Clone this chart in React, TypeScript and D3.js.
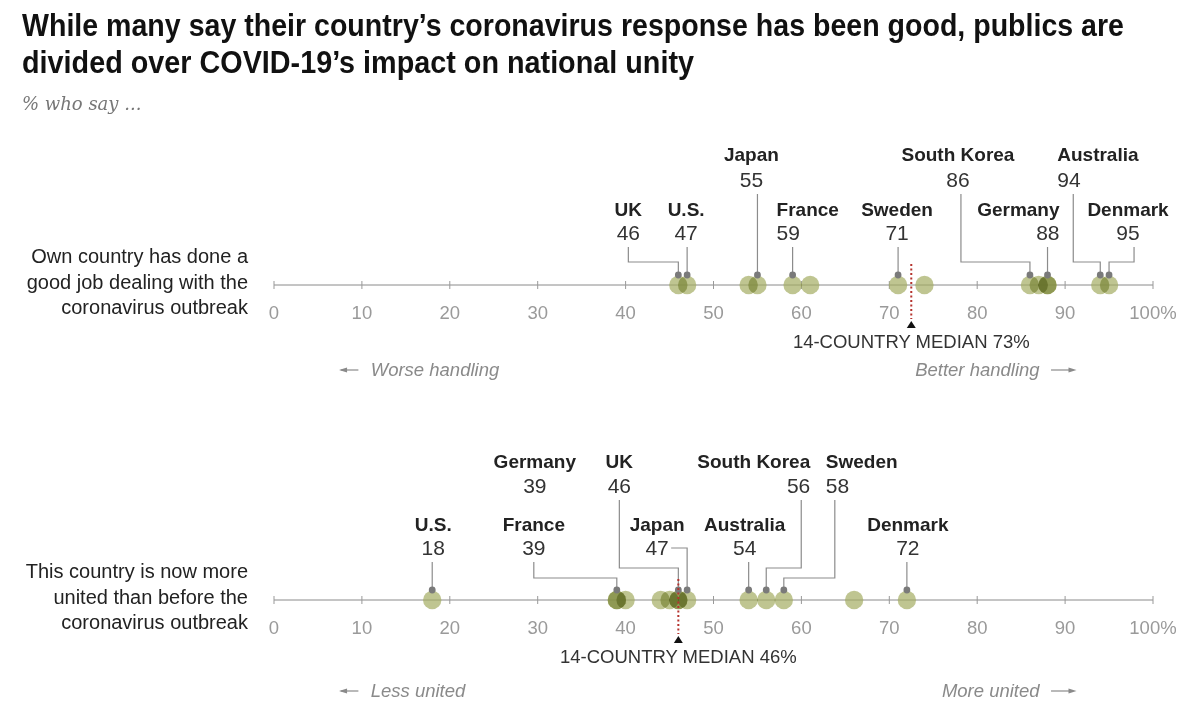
import * as d3 from 'd3'

// 14 countries surveyed, Summer 2020
const countries = ['U.S.', 'Canada', 'Belgium', 'Denmark', 'France', 'Germany', 'Italy',
  'Netherlands', 'Spain', 'Sweden', 'UK', 'Australia', 'Japan', 'South Korea']
const goodJob = [47, 88, 61, 95, 59, 88, 74, 87, 54, 71, 46, 94, 55, 86]
const moreUnited = [18, 66, 40, 72, 39, 39, 45, 44, 46, 58, 46, 54, 47, 56]

const tickValues = [0, 10, 20, 30, 40, 50, 60, 70, 80, 90, 100]
const tickLabels = ['0', '10', '20', '30', '40', '50', '60', '70', '80', '90', '100%']

const rowLabels = [
  ['Own country has done a', 'good job dealing with the', 'coronavirus outbreak'],
  ['This country is now more', 'united than before the', 'coronavirus outbreak'],
]
const directionLabels = [
  ['Worse handling', 'Better handling'],
  ['Less united', 'More united'],
]

const title = [
  'While many say their country’s coronavirus response has been good, publics are',
  'divided over COVID-19’s impact on national unity',
]
const subtitle = '% who say ...'

// label placement (pixels relative to the dot) - layout only
type Spec = {
  country: string
  tier: 'low' | 'high'
  anchor: 'start' | 'middle' | 'end'
  dx: number
  leader: 'none' | 'straight' | 'elbow' | 'side'
  ldx?: number
  elbow?: number
}

const layout1: Spec[] = [
  { country: 'UK', tier: 'low', anchor: 'middle', dx: -50, leader: 'elbow', ldx: -50, elbow: -23 },
  { country: 'U.S.', tier: 'low', anchor: 'middle', dx: -1, leader: 'straight' },
  { country: 'Japan', tier: 'high', anchor: 'middle', dx: -6, leader: 'straight' },
  { country: 'France', tier: 'low', anchor: 'start', dx: -16, leader: 'straight' },
  { country: 'Sweden', tier: 'low', anchor: 'middle', dx: -1, leader: 'straight' },
  { country: 'South Korea', tier: 'high', anchor: 'middle', dx: -72, leader: 'elbow', ldx: -69, elbow: -23 },
  { country: 'Germany', tier: 'low', anchor: 'end', dx: 12, leader: 'straight' },
  { country: 'Australia', tier: 'high', anchor: 'start', dx: -43, leader: 'elbow', ldx: -27, elbow: -23 },
  { country: 'Denmark', tier: 'low', anchor: 'middle', dx: 19, leader: 'elbow', ldx: 25, elbow: -23 },
]
const layout2: Spec[] = [
  { country: 'U.S.', tier: 'low', anchor: 'middle', dx: 1, leader: 'straight' },
  { country: 'France', tier: 'low', anchor: 'middle', dx: -83, leader: 'elbow', ldx: -83, elbow: -22 },
  { country: 'Germany', tier: 'high', anchor: 'middle', dx: -82, leader: 'none' },
  { country: 'UK', tier: 'high', anchor: 'middle', dx: -59, leader: 'elbow', ldx: -59, elbow: -32 },
  { country: 'Japan', tier: 'low', anchor: 'middle', dx: -30, leader: 'side', ldx: -16 },
  { country: 'Australia', tier: 'low', anchor: 'middle', dx: -4, leader: 'straight' },
  { country: 'South Korea', tier: 'high', anchor: 'end', dx: 44, leader: 'elbow', ldx: 35, elbow: -32 },
  { country: 'Sweden', tier: 'high', anchor: 'start', dx: 42, leader: 'elbow', ldx: 51, elbow: -22 },
  { country: 'Denmark', tier: 'low', anchor: 'middle', dx: 1, leader: 'straight' },
]

const W = 1200
const H = 722
const SANS = '"Liberation Sans", Arial, sans-serif'

const x = d3.scaleLinear().domain([0, 100]).range([274, 1153])

const rows = [
  { values: goodJob, axisY: 285, layout: layout1, tiers: { low: [-69, -45], high: [-124, -98] } },
  { values: moreUnited, axisY: 600, layout: layout2, tiers: { low: [-69, -45], high: [-132, -107] } },
]

const Row = ({ r, idx }: { r: typeof rows[number]; idx: number }) => {
  const y0 = r.axisY
  const data = countries.map((c, i) => ({ country: c, value: r.values[i] }))
  const med = d3.median(r.values) as number
  const mx = x(med)
  const dotY = y0 - 10
  const ay = y0 + 85 + idx * 6
  return (
    <g>
      {rowLabels[idx].map((t, i) => (
        <text key={t} x={248} y={y0 - 22 + i * 25.5} textAnchor="end" fontSize={20} fill="#222" fontFamily={SANS}>{t}</text>
      ))}
      <line x1={x(0)} x2={x(100)} y1={y0} y2={y0} stroke="#8a8a8a" strokeWidth={1} />
      {tickValues.map((t, i) => (
        <g key={t}>
          <line x1={x(t)} x2={x(t)} y1={y0 - 4} y2={y0 + 4} stroke="#999" strokeWidth={1} />
          <text x={x(t)} y={y0 + 34} textAnchor="middle" fontSize={18.5} fill="#9a9a9a" fontFamily={SANS}>{tickLabels[i]}</text>
        </g>
      ))}
      <g style={{ isolation: 'isolate' }}>
        {data.map(d => (
          <circle key={d.country} cx={x(d.value)} cy={y0} r={9.2} fill="#a4ad62" fillOpacity={0.7}
            style={{ mixBlendMode: 'multiply' }} />
        ))}
      </g>
      {r.layout.map(s => {
        const d = data.find(e => e.country === s.country)!
        const cx = x(d.value)
        const tx = cx + s.dx
        const [ny, vy] = r.tiers[s.tier]
        let path = ''
        if (s.leader === 'straight') path = `M${cx},${y0 + vy + 7}V${dotY}`
        if (s.leader === 'elbow') path = `M${cx + (s.ldx ?? 0)},${y0 + vy + 7}V${y0 + (s.elbow ?? 0)}H${cx}V${dotY}`
        if (s.leader === 'side') path = `M${cx + (s.ldx ?? 0)},${y0 + vy - 7}H${cx}V${dotY}`
        return (
          <g key={s.country}>
            {path && <path d={path} fill="none" stroke="#8c8c8c" strokeWidth={1.2} />}
            {s.leader !== 'none' && <circle cx={cx} cy={dotY} r={3.4} fill="#7a7a7a" />}
            <text x={tx} y={y0 + ny} textAnchor={s.anchor} fontSize={19} fontWeight={700} fill="#222" fontFamily={SANS}>{s.country}</text>
            <text x={tx} y={y0 + vy} textAnchor={s.anchor} fontSize={21} fill="#333" fontFamily={SANS}>{d.value}</text>
          </g>
        )
      })}
      <line x1={mx} x2={mx} y1={y0 - 21} y2={y0 + 34} stroke="#b5332e" strokeWidth={2} strokeDasharray="2,2.5" />
      <path d={`M${mx},${y0 + 36}l4.5,7h-9z`} fill="#111" />
      <text x={mx} y={y0 + 63} textAnchor="middle" fontSize={18.5} fill="#333" fontFamily={SANS}>
        {`14-COUNTRY MEDIAN ${Math.round(med)}%`}
      </text>
      <g fill="#8a8a8a" stroke="#8a8a8a" fontFamily={SANS} fontSize={18.5} fontStyle="italic">
        <line x1={x(7.6)} x2={x(9.6)} y1={ay} y2={ay} strokeWidth={1.2} />
        <path d={`M${x(7.4)},${ay}l8,-2.5v5z`} stroke="none" />
        <text x={x(11)} y={ay + 6} stroke="none">{directionLabels[idx][0]}</text>
        <text x={x(87.1)} y={ay + 6} textAnchor="end" stroke="none">{directionLabels[idx][1]}</text>
        <line x1={x(88.4)} x2={x(90.6)} y1={ay} y2={ay} strokeWidth={1.2} />
        <path d={`M${x(91.3)},${ay}l-8,-2.5v5z`} stroke="none" />
      </g>
    </g>
  )
}

export default function App() {
  return (
    <svg width={W} height={H} viewBox={`0 0 ${W} ${H}`}
      style={{ position: 'absolute', left: 0, top: 0, background: '#fff' }}>
      <rect width={W} height={H} fill="#fff" />
      <text x={22} y={36} fontSize={31} fontWeight={700} fill="#111" fontFamily={SANS}
        textLength={1102} lengthAdjust="spacingAndGlyphs">{title[0]}</text>
      <text x={22} y={73} fontSize={31} fontWeight={700} fill="#111" fontFamily={SANS}
        textLength={672} lengthAdjust="spacingAndGlyphs">{title[1]}</text>
      <text x={22} y={110} fontSize={18} fontStyle="italic" fill="#777" fontFamily='"DejaVu Serif", serif'>{subtitle}</text>
      {rows.map((r, i) => <Row key={i} r={r} idx={i} />)}
    </svg>
  )
}
